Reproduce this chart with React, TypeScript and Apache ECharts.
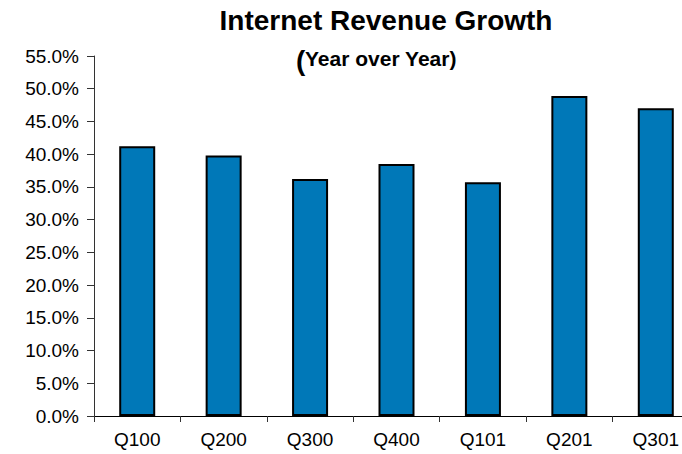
import React, { useEffect, useRef } from "react";
import * as echarts from "echarts";

const categories = ["Q100", "Q200", "Q300", "Q400", "Q101", "Q201", "Q301"];
const growthPct = [41.2, 39.8, 36.2, 38.5, 35.7, 48.9, 47.0];
const yMin = 0;
const yMax = 55;
const yStep = 5;
const titleText = "Internet Revenue Growth";
const subtitleParen = "(";
const subtitleText = "Year over Year)";

const FONT = "'Liberation Sans', Arial, Helvetica, sans-serif";

export default function App() {
  const ref = useRef<HTMLDivElement>(null);

  useEffect(() => {
    document.body.style.margin = "0";
    if (!ref.current) return;
    const chart = echarts.init(ref.current, undefined, { renderer: "svg" });
    chart.setOption({
      animation: false,
      backgroundColor: "#ffffff",
      grid: {
        left: 94,
        top: 56,
        width: 605,
        height: 360,
        containLabel: false,
        outerBoundsMode: "none",
      },
      graphic: [
        {
          type: "text",
          x: 386,
          y: 20,
          style: {
            text: titleText,
            textAlign: "center",
            textVerticalAlign: "middle",
            font: `bold 28px ${FONT}`,
            fill: "#000",
          },
        },
        {
          type: "text",
          x: 296,
          y: 60,
          style: {
            text: subtitleParen,
            textAlign: "left",
            textVerticalAlign: "middle",
            font: `bold 28px ${FONT}`,
            fill: "#000",
          },
        },
        {
          type: "text",
          x: 305,
          y: 58,
          style: {
            text: subtitleText,
            textAlign: "left",
            textVerticalAlign: "middle",
            font: `bold 21px ${FONT}`,
            fill: "#000",
          },
        },
      ],
      xAxis: {
        type: "category",
        data: categories,
        boundaryGap: true,
        axisLine: { show: true, lineStyle: { color: "#000", width: 1 } },
        axisTick: { show: true, length: 6, inside: false, lineStyle: { color: "#333" } },
        axisLabel: {
          margin: 14,
          fontSize: 19,
          fontFamily: FONT,
          color: "#000",
          interval: 0,
        },
        splitLine: { show: false },
      },
      yAxis: {
        type: "value",
        min: yMin,
        max: yMax,
        interval: yStep,
        axisLine: { show: true, lineStyle: { color: "#333", width: 1 } },
        axisTick: { show: true, length: 7, inside: false, lineStyle: { color: "#333" } },
        axisLabel: {
          margin: 15,
          fontSize: 19,
          fontFamily: FONT,
          color: "#000",
          formatter: (v: number) => `${v.toFixed(1)}%`,
        },
        splitLine: { show: false },
      },
      series: [
        {
          type: "bar",
          data: growthPct,
          barWidth: 36,
          itemStyle: {
            color: "#0078B8",
            borderColor: "#000",
            borderWidth: 2,
          },
        },
      ],
    });
    return () => chart.dispose();
  }, []);

  return <div ref={ref} style={{ width: 682, height: 454 }} />;
}
